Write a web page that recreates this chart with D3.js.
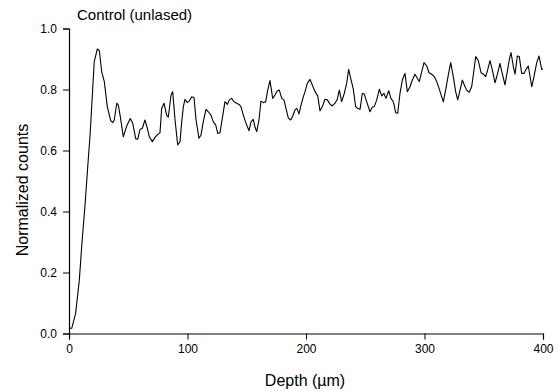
<!DOCTYPE html>
<html>
<head>
<meta charset="utf-8">
<script src="https://cdn.jsdelivr.net/npm/d3@7"></script>
<style>
  html, body { margin: 0; padding: 0; background: #fff; }
  svg { display: block; }
  text { font-family: "Liberation Sans", Arial, Helvetica, sans-serif; fill: #000; }
</style>
</head>
<body>
<svg id="chart" width="558" height="390"></svg>
<script>
const title = "Control (unlased)";
const xLabel = "Depth (\u00b5m)";
const yLabel = "Normalized counts";
const xTicks = [0, 100, 200, 300, 400];
const yTicks = [0.0, 0.2, 0.4, 0.6, 0.8, 1.0];

const depth = [0.3, 2.3, 5.6, 8.7, 11.0, 13.5, 16.3, 17.7, 21.3, 23.9, 25.6, 27.6, 29.8, 32.3, 35.2, 36.9, 38.2, 40.3, 41.6, 43.3, 45.8, 48.7, 51.7, 53.8, 56.3, 58.0, 59.9, 61.9, 64.1, 66.1, 67.8, 70.3, 72.6, 74.9, 76.8, 78.2, 80.2, 82.4, 83.8, 86.1, 87.5, 89.5, 91.7, 93.7, 95.0, 96.5, 97.9, 99.8, 101.5, 103.5, 105.5, 107.2, 109.7, 111.4, 113.3, 115.6, 117.6, 119.8, 121.8, 123.8, 125.5, 127.4, 129.4, 131.6, 133.6, 135.3, 137.3, 139.2, 141.5, 143.5, 145.1, 147.1, 149.4, 151.9, 153.6, 155.5, 157.0, 158.4, 160.3, 162.0, 164.0, 166.0, 167.7, 169.6, 171.9, 173.8, 175.8, 177.5, 179.5, 181.4, 183.1, 185.1, 187.1, 188.8, 190.7, 192.2, 194.1, 195.8, 197.7, 199.2, 201.1, 203.4, 205.3, 207.6, 209.9, 211.8, 213.8, 216.0, 218.0, 220.3, 222.2, 224.5, 226.4, 228.1, 230.1, 232.3, 234.3, 236.0, 237.7, 239.9, 241.9, 243.6, 245.6, 247.5, 249.2, 251.2, 254.0, 255.9, 257.6, 259.7, 261.9, 263.9, 265.8, 267.5, 269.8, 271.7, 273.7, 275.7, 277.4, 279.3, 281.3, 283.5, 285.5, 287.8, 289.7, 292.0, 293.9, 295.6, 297.6, 299.6, 301.9, 303.8, 306.1, 308.3, 310.3, 312.5, 314.5, 315.9, 318.1, 320.1, 322.1, 324.3, 326.3, 328.0, 330.0, 331.9, 333.6, 335.6, 337.8, 339.8, 341.2, 343.2, 345.4, 347.7, 349.6, 351.6, 353.3, 355.3, 357.6, 359.5, 361.4, 363.7, 365.6, 367.9, 369.4, 371.6, 373.0, 374.9, 376.4, 378.3, 380.0, 382.0, 384.0, 385.7, 387.6, 390.5, 392.4, 394.7, 396.6, 398.9, 400.0];
const counts = [0.017, 0.017, 0.066, 0.175, 0.30, 0.42, 0.574, 0.645, 0.891, 0.933, 0.927, 0.858, 0.826, 0.744, 0.698, 0.691, 0.700, 0.755, 0.749, 0.711, 0.645, 0.680, 0.705, 0.689, 0.639, 0.637, 0.669, 0.673, 0.700, 0.673, 0.645, 0.629, 0.643, 0.653, 0.658, 0.738, 0.755, 0.716, 0.709, 0.782, 0.793, 0.700, 0.618, 0.629, 0.689, 0.744, 0.768, 0.757, 0.762, 0.776, 0.774, 0.700, 0.640, 0.651, 0.694, 0.735, 0.727, 0.716, 0.694, 0.684, 0.656, 0.658, 0.706, 0.760, 0.751, 0.766, 0.771, 0.760, 0.755, 0.751, 0.744, 0.716, 0.689, 0.665, 0.694, 0.702, 0.676, 0.662, 0.700, 0.762, 0.757, 0.760, 0.798, 0.829, 0.771, 0.782, 0.796, 0.798, 0.771, 0.766, 0.738, 0.706, 0.700, 0.713, 0.733, 0.738, 0.720, 0.749, 0.776, 0.793, 0.820, 0.833, 0.815, 0.793, 0.779, 0.730, 0.744, 0.768, 0.766, 0.752, 0.746, 0.755, 0.768, 0.798, 0.760, 0.787, 0.820, 0.866, 0.837, 0.801, 0.744, 0.738, 0.735, 0.787, 0.785, 0.760, 0.727, 0.742, 0.744, 0.766, 0.801, 0.779, 0.787, 0.771, 0.796, 0.771, 0.760, 0.724, 0.722, 0.787, 0.831, 0.853, 0.793, 0.809, 0.831, 0.850, 0.837, 0.826, 0.858, 0.888, 0.877, 0.855, 0.850, 0.842, 0.826, 0.801, 0.776, 0.760, 0.804, 0.848, 0.888, 0.842, 0.793, 0.766, 0.798, 0.831, 0.815, 0.798, 0.791, 0.809, 0.848, 0.908, 0.895, 0.855, 0.851, 0.842, 0.864, 0.895, 0.858, 0.822, 0.848, 0.886, 0.853, 0.815, 0.848, 0.899, 0.921, 0.877, 0.850, 0.910, 0.908, 0.853, 0.853, 0.866, 0.877, 0.809, 0.842, 0.888, 0.910, 0.866, 0.867];

const svg = d3.select("#chart");
const mLeft = 69, mRight = 543, mTop = 28.5, mBottom = 333.5;

const x = d3.scaleLinear().domain([0, 400]).range([mLeft, mRight]);
const y = d3.scaleLinear().domain([0, 1]).range([mBottom, mTop]);

// minor ticks
const gx = svg.append("g").attr("transform", `translate(0,${mBottom})`);
gx.call(d3.axisBottom(x).tickValues(d3.range(50, 400, 100)).tickSize(3).tickFormat(""));
gx.call(d3.axisBottom(x).tickValues(xTicks).tickSize(6).tickPadding(5).tickFormat(d3.format("d")));
const gy = svg.append("g").attr("transform", `translate(${mLeft},0)`);
gy.call(d3.axisLeft(y).tickValues(d3.range(0.1, 1.0, 0.2)).tickSize(3).tickFormat(""));
gy.call(d3.axisLeft(y).tickValues(yTicks).tickSize(6).tickPadding(6).tickFormat(d3.format(".1f")));

svg.selectAll(".domain").attr("stroke", "#000").attr("stroke-width", 1.2);
svg.selectAll(".tick line").attr("stroke", "#000").attr("stroke-width", 1);
svg.selectAll(".tick text").attr("font-size", 12).attr("font-family", "Liberation Sans, Arial, sans-serif").attr("fill", "#000");

const data = depth.map((d, i) => [d, counts[i]]);
svg.append("path")
  .datum(data)
  .attr("fill", "none")
  .attr("stroke", "#000")
  .attr("stroke-width", 1.1)
  .attr("stroke-linejoin", "round")
  .attr("d", d3.line().x(d => x(d[0])).y(d => y(d[1])));

svg.append("text").attr("x", 77).attr("y", 20).attr("font-size", 15).text(title);
svg.append("text").attr("x", 305).attr("y", 386).attr("text-anchor", "middle").attr("font-size", 16).text(xLabel);
svg.append("text").attr("transform", `translate(28,190) rotate(-90)`).attr("text-anchor", "middle").attr("font-size", 16).text(yLabel);
</script>
</body>
</html>
